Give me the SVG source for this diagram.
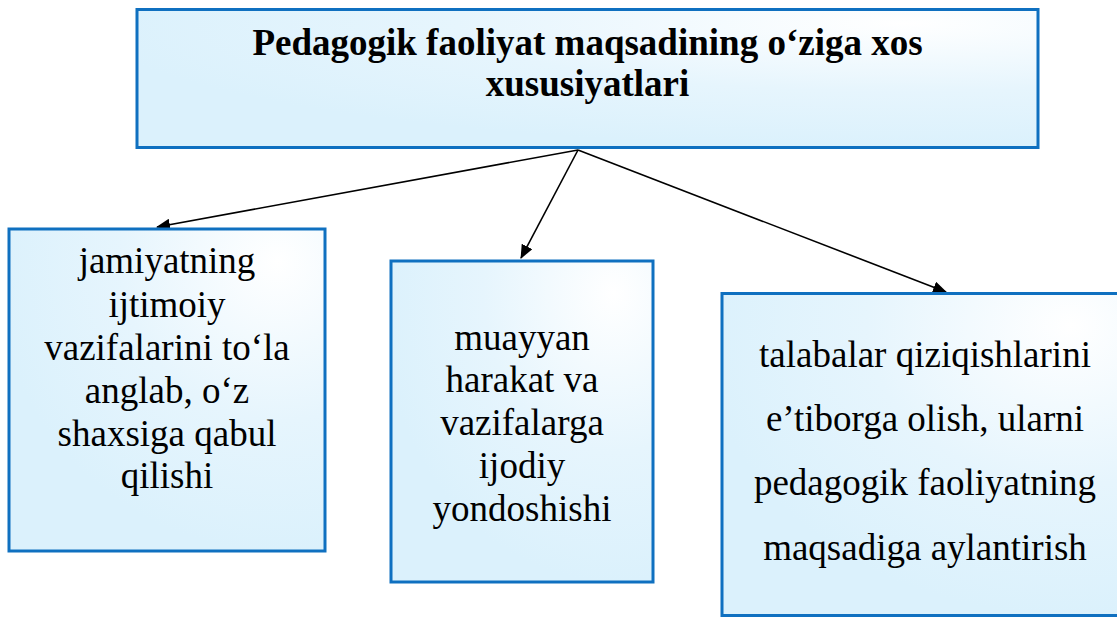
<svg xmlns="http://www.w3.org/2000/svg" width="1117" height="617" viewBox="0 0 1117 617">
  <style>
    .box { stroke: #0f70c0; stroke-width: 3; }
    .t { font-family: "Liberation Serif", "Times New Roman", serif; font-size: 37px; fill: #000; text-anchor: middle; }
    .b { font-weight: bold; }
    .conn { stroke: #000; stroke-width: 1.6; fill: none; marker-end: url(#ah); }
  </style>
  <defs>
    <radialGradient id="g" cx="0.85" cy="0.1" r="0.9" fx="0.85" fy="0.1">
      <stop offset="0" stop-color="#ffffff"/>
      <stop offset="0.55" stop-color="#e6f5fd"/>
      <stop offset="1" stop-color="#dbf1fc"/>
    </radialGradient>
    <marker id="ah" viewBox="0 0 14 12" refX="13" refY="6" markerWidth="14" markerHeight="12" markerUnits="userSpaceOnUse" orient="auto">
      <path d="M0,0 L14,6 L0,12 z" fill="#000"/>
    </marker>
  </defs>

  <g id="connectors">
    <line class="conn" x1="578" y1="150" x2="157" y2="227"/>
    <line class="conn" x1="578" y1="150" x2="521" y2="258"/>
    <line class="conn" x1="578" y1="150" x2="946" y2="292"/>
  </g>

  <g id="top">
    <rect class="box" x="137" y="9.5" width="901" height="138" fill="url(#g)"/>
    <text class="t b" x="587.5" y="54.5">Pedagogik faoliyat maqsadining o‘ziga xos</text>
    <text class="t b" x="587.5" y="96">xususiyatlari</text>
  </g>

  <g id="left">
    <rect class="box" x="9" y="229" width="316" height="322" fill="url(#g)"/>
    <text class="t" x="167" y="273">jamiyatning</text>
    <text class="t" x="167" y="316.5">ijtimoiy</text>
    <text class="t" x="167" y="359.5">vazifalarini to‘la</text>
    <text class="t" x="167" y="402.5">anglab, o‘z</text>
    <text class="t" x="167" y="445.5">shaxsiga qabul</text>
    <text class="t" x="167" y="488">qilishi</text>
  </g>

  <g id="middle">
    <rect class="box" x="391" y="261" width="262" height="321" fill="url(#g)"/>
    <text class="t" x="522" y="350">muayyan</text>
    <text class="t" x="522" y="392">harakat va</text>
    <text class="t" x="522" y="435">vazifalarga</text>
    <text class="t" x="522" y="478">ijodiy</text>
    <text class="t" x="522" y="520.5">yondoshishi</text>
  </g>

  <g id="right">
    <rect class="box" x="722" y="293.5" width="410" height="322" fill="url(#g)"/>
    <text class="t" x="925" y="367">talabalar qiziqishlarini</text>
    <text class="t" x="925" y="431">e’tiborga olish, ularni</text>
    <text class="t" x="925" y="495">pedagogik faoliyatning</text>
    <text class="t" x="925" y="560">maqsadiga aylantirish</text>
  </g>
</svg>
